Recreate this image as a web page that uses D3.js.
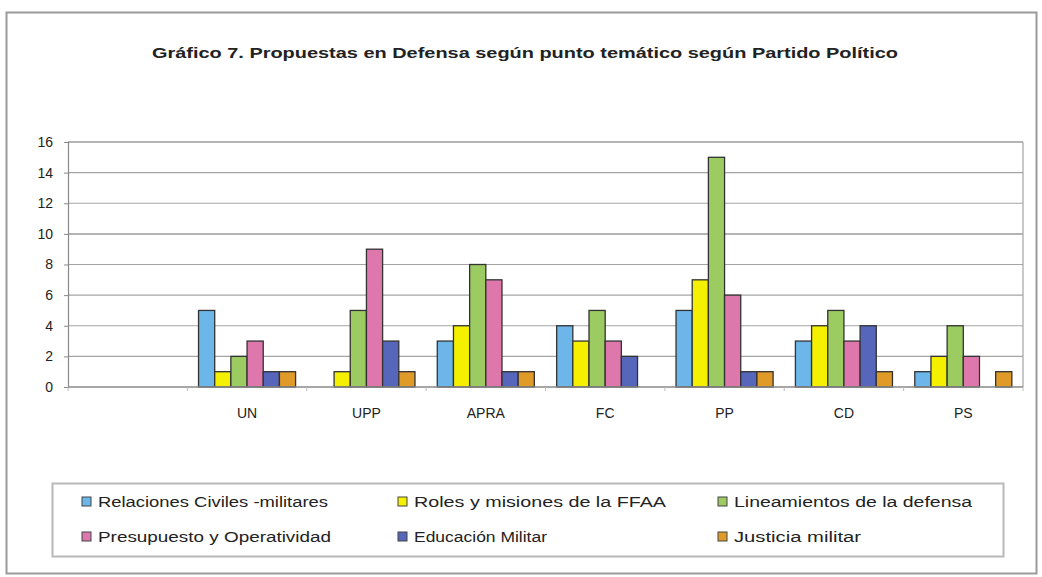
<!DOCTYPE html>
<html>
<head>
<meta charset="utf-8">
<script src="https://cdn.jsdelivr.net/npm/d3@7"></script>
<style>
  body { margin: 0; background: #fff; }
  text { font-family: "Liberation Sans", Arial, sans-serif; fill: #222; }
</style>
</head>
<body>
<svg width="1042" height="577"></svg>
<script>
// data
var parties = ["", "UN", "UPP", "APRA", "FC", "PP", "CD", "PS"];
var topics = ["Relaciones Civiles -militares", "Roles y misiones de la FFAA", "Lineamientos de la defensa",
              "Presupuesto y Operatividad", "Educación Militar", "Justicia militar"];
var relaciones  = [0, 5, 0, 3, 4, 5, 3, 1];
var roles       = [0, 1, 1, 4, 3, 7, 4, 2];
var lineamientos= [0, 2, 5, 8, 5, 15, 5, 4];
var presupuesto = [0, 3, 9, 7, 3, 6, 3, 2];
var educacion   = [0, 1, 3, 1, 2, 1, 4, 0];
var justicia    = [0, 1, 1, 1, 0, 1, 1, 1];
var series = [relaciones, roles, lineamientos, presupuesto, educacion, justicia];
var colors = ["#6cb6ea", "#f4f000", "#9ccb62", "#de78ac", "#5566bb", "#df9a27"];
var yTicks = [0, 2, 4, 6, 8, 10, 12, 14, 16];

var svg = d3.select("svg");

// outer frame
svg.append("rect")
    .attr("x", 6.5).attr("y", 12.5)
    .attr("width", 1030).attr("height", 561)
    .attr("fill", "#fff")
    .attr("stroke", "#9a9a9a")
    .attr("stroke-width", 2);

// title
svg.append("text")
    .attr("x", 152).attr("y", 58)
    .attr("textLength", 746)
    .attr("lengthAdjust", "spacingAndGlyphs")
    .attr("font-size", 15)
    .attr("font-weight", "bold")
    .text("Gráfico 7. Propuestas en Defensa según punto temático según Partido Político");

var plotL = 68, plotR = 1023, plotT = 142, plotB = 387;

var x = d3.scaleBand().domain(d3.range(parties.length)).range([plotL, plotR]).padding(0);
var xi = d3.scaleBand().domain(d3.range(topics.length)).range([0, x.bandwidth()])
    .paddingInner(0).paddingOuter(0.69);
var y = d3.scaleLinear().domain([0, 16]).range([plotB, plotT]);

// gridlines
svg.append("g")
  .selectAll("line")
  .data(yTicks.filter(d => d > 0))
  .join("line")
    .attr("x1", plotL).attr("x2", plotR)
    .attr("y1", d => y(d)).attr("y2", d => y(d))
    .attr("stroke", d => (d == 10 || d == 16) ? "#b4b4b4" : "#a4a4a4")
    .attr("stroke-width", d => (d == 10 || d == 16) ? 2 : 1.2);

// right border of plot
svg.append("line")
    .attr("x1", plotR).attr("x2", plotR).attr("y1", plotT).attr("y2", plotB)
    .attr("stroke", "#a4a4a4").attr("stroke-width", 1.2);

// y axis
var yAxis = svg.append("g")
    .attr("transform", "translate(" + plotL + ",0)")
    .call(d3.axisLeft(y).tickValues(yTicks).tickSize(4).tickPadding(11));
yAxis.select(".domain").attr("stroke", "#888").attr("stroke-width", 1.2);
yAxis.selectAll(".tick line").attr("stroke", "#888");
yAxis.selectAll("text")
    .attr("font-size", 14)
    .attr("font-family", "Liberation Sans, Arial, sans-serif")
    .attr("fill", "#222");

// bars
var groups = svg.append("g")
  .selectAll("g")
  .data(parties)
  .join("g")
    .attr("transform", (d, i) => "translate(" + x(i) + ",0)");

groups.selectAll("rect")
  .data((d, i) => series.map((s, k) => ({k: k, v: s[i]})).filter(e => e.v > 0))
  .join("rect")
    .attr("x", d => xi(d.k))
    .attr("y", d => y(d.v))
    .attr("width", xi.bandwidth())
    .attr("height", d => plotB - y(d.v))
    .attr("fill", d => colors[d.k])
    .attr("stroke", "#333")
    .attr("stroke-width", 1.3);

// x axis
var xAxis = svg.append("g")
    .attr("transform", "translate(0," + plotB + ")");
xAxis.append("line")
    .attr("x1", plotL).attr("x2", plotR)
    .attr("stroke", "#888").attr("stroke-width", 1.5);
xAxis.selectAll(".tk")
  .data(d3.range(parties.length + 1))
  .join("line")
    .attr("class", "tk")
    .attr("x1", i => plotL + i * x.step()).attr("x2", i => plotL + i * x.step())
    .attr("y1", 0).attr("y2", 4)
    .attr("stroke", "#bbb");
xAxis.selectAll("text")
  .data(parties)
  .join("text")
    .attr("x", (d, i) => x(i) + x.bandwidth() / 2)
    .attr("y", 31)
    .attr("text-anchor", "middle")
    .attr("font-size", 14)
    .text(d => d);

// legend
var lg = svg.append("g");
lg.append("rect")
    .attr("x", 52.5).attr("y", 483.5)
    .attr("width", 951).attr("height", 73)
    .attr("fill", "#fff")
    .attr("stroke", "#b8b8b8")
    .attr("stroke-width", 2);

var legX = [82, 398, 718];
var legY = [502, 537];
var legW = [230, 252, 238, 233, 133, 127];
topics.forEach(function(t, k) {
  var col = k % 3, row = Math.floor(k / 3);
  lg.append("rect")
      .attr("x", legX[col]).attr("y", legY[row] - 5)
      .attr("width", 9).attr("height", 9)
      .attr("fill", colors[k])
      .attr("stroke", "#444").attr("stroke-width", 1);
  lg.append("text")
      .attr("x", legX[col] + 16).attr("y", legY[row] + 5)
      .attr("font-size", 14)
      .attr("textLength", legW[k])
      .attr("lengthAdjust", "spacingAndGlyphs")
      .text(t);
});
</script>
</body>
</html>
